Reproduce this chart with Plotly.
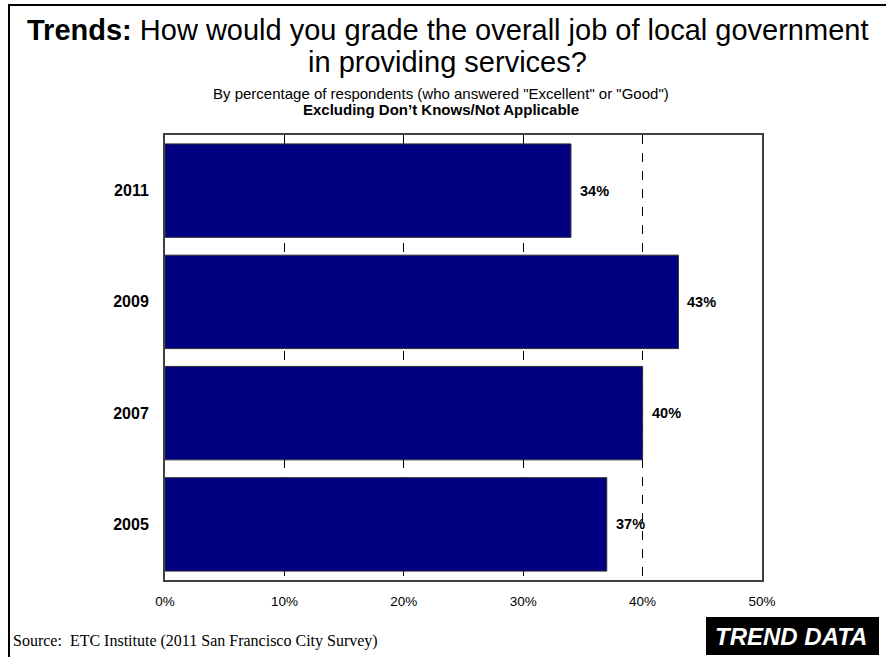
import plotly.graph_objects as go

# Survey results: share answering "Excellent" or "Good"
years = ["2011", "2009", "2007", "2005"]
percent = [34, 43, 40, 37]
tick_vals = [0, 10, 20, 30, 40, 50]
tick_text = ["0%", "10%", "20%", "30%", "40%", "50%"]

W, H = 886, 657
L, R, T, B = 165, 762, 135, 580  # plot area in pixels

# bottom-to-top category order on the y axis
order = years[::-1]


def px(x):
    return (x - L) / (R - L)


def py(y):
    return (B - y) / (B - T)


fig = go.Figure()
fig.add_trace(go.Bar(
    y=years,
    x=percent,
    orientation="h",
    marker=dict(color="#000080", line=dict(color="#303030", width=1)),
    width=0.84,
    hoverinfo="skip",
))

annotations = []
for yr, v in zip(years, percent):
    annotations.append(dict(
        x=v, y=order.index(yr), xref="x", yref="y", text=f"<b>{v}%</b>",
        showarrow=False, xanchor="left", xshift=7,
        font=dict(family="Liberation Sans, Arial", size=14.5, color="black"),
    ))

annotations += [
    dict(x=px(447), y=py(30), xref="paper", yref="paper",
         text="<b>Trends:</b> How would you grade the overall job of local government",
         showarrow=False, xanchor="center", yanchor="middle",
         font=dict(family="Liberation Sans, Arial", size=29, color="black")),
    dict(x=px(447), y=py(62), xref="paper", yref="paper",
         text="in providing services?",
         showarrow=False, xanchor="center", yanchor="middle",
         font=dict(family="Liberation Sans, Arial", size=29, color="black")),
    dict(x=px(441), y=py(94), xref="paper", yref="paper",
         text="By percentage of respondents (who answered \"Excellent\" or \"Good\")",
         showarrow=False, xanchor="center", yanchor="middle",
         font=dict(family="Liberation Sans, Arial", size=15, color="black")),
    dict(x=px(441), y=py(109), xref="paper", yref="paper",
         text="<b>Excluding Don\u2019t Knows/Not Applicable</b>",
         showarrow=False, xanchor="center", yanchor="middle",
         font=dict(family="Liberation Sans, Arial", size=15, color="black")),
    dict(x=px(11), y=py(641), xref="paper", yref="paper",
         text="Source:  ETC Institute (2011 San Francisco City Survey)",
         showarrow=False, xanchor="left", yanchor="middle",
         font=dict(family="Liberation Serif, Times New Roman", size=16, color="black")),
    dict(x=px(791), y=py(636), xref="paper", yref="paper",
         text="<b><i>TREND DATA</i></b>",
         showarrow=False, xanchor="center", yanchor="middle",
         font=dict(family="Liberation Sans, Arial", size=24, color="white")),
]

shapes = [
    # outer frame (left and top edges visible)
    dict(type="rect", xref="paper", yref="paper",
         x0=px(9), y0=py(H + 20), x1=px(W + 20), y1=py(5),
         line=dict(color="black", width=2), fillcolor="rgba(0,0,0,0)", layer="above"),
    # black badge
    dict(type="rect", xref="paper", yref="paper",
         x0=px(706), y0=py(655), x1=px(879), y1=py(617),
         line=dict(color="black", width=0), fillcolor="black", layer="below"),
]

fig.update_layout(
    width=W, height=H,
    margin=dict(l=L, r=W - R, t=T, b=H - B, pad=0),
    paper_bgcolor="white", plot_bgcolor="white",
    showlegend=False,
    bargap=0.16,
    annotations=annotations,
    shapes=shapes,
    xaxis=dict(
        range=[0, 50], tickvals=tick_vals, ticktext=tick_text,
        showgrid=True, gridcolor="black", griddash="dash", gridwidth=1,
        showline=True, linecolor="#404040", linewidth=2, mirror=True,
        ticks="", zeroline=False, ticklabelstandoff=8,
        tickfont=dict(family="Liberation Sans, Arial", size=13.5, color="black"),
    ),
    yaxis=dict(
        type="category",
        categoryorder="array", categoryarray=order,
        range=[-0.5, len(order) - 0.5], autorange=False,
        showline=True, linecolor="#404040", linewidth=2, mirror=True,
        showgrid=False, ticks="", ticklabelstandoff=11,
        tickfont=dict(family="Liberation Sans, Arial", size=16, color="black", weight="bold"),
    ),
)

fig.write_html("out.html")
